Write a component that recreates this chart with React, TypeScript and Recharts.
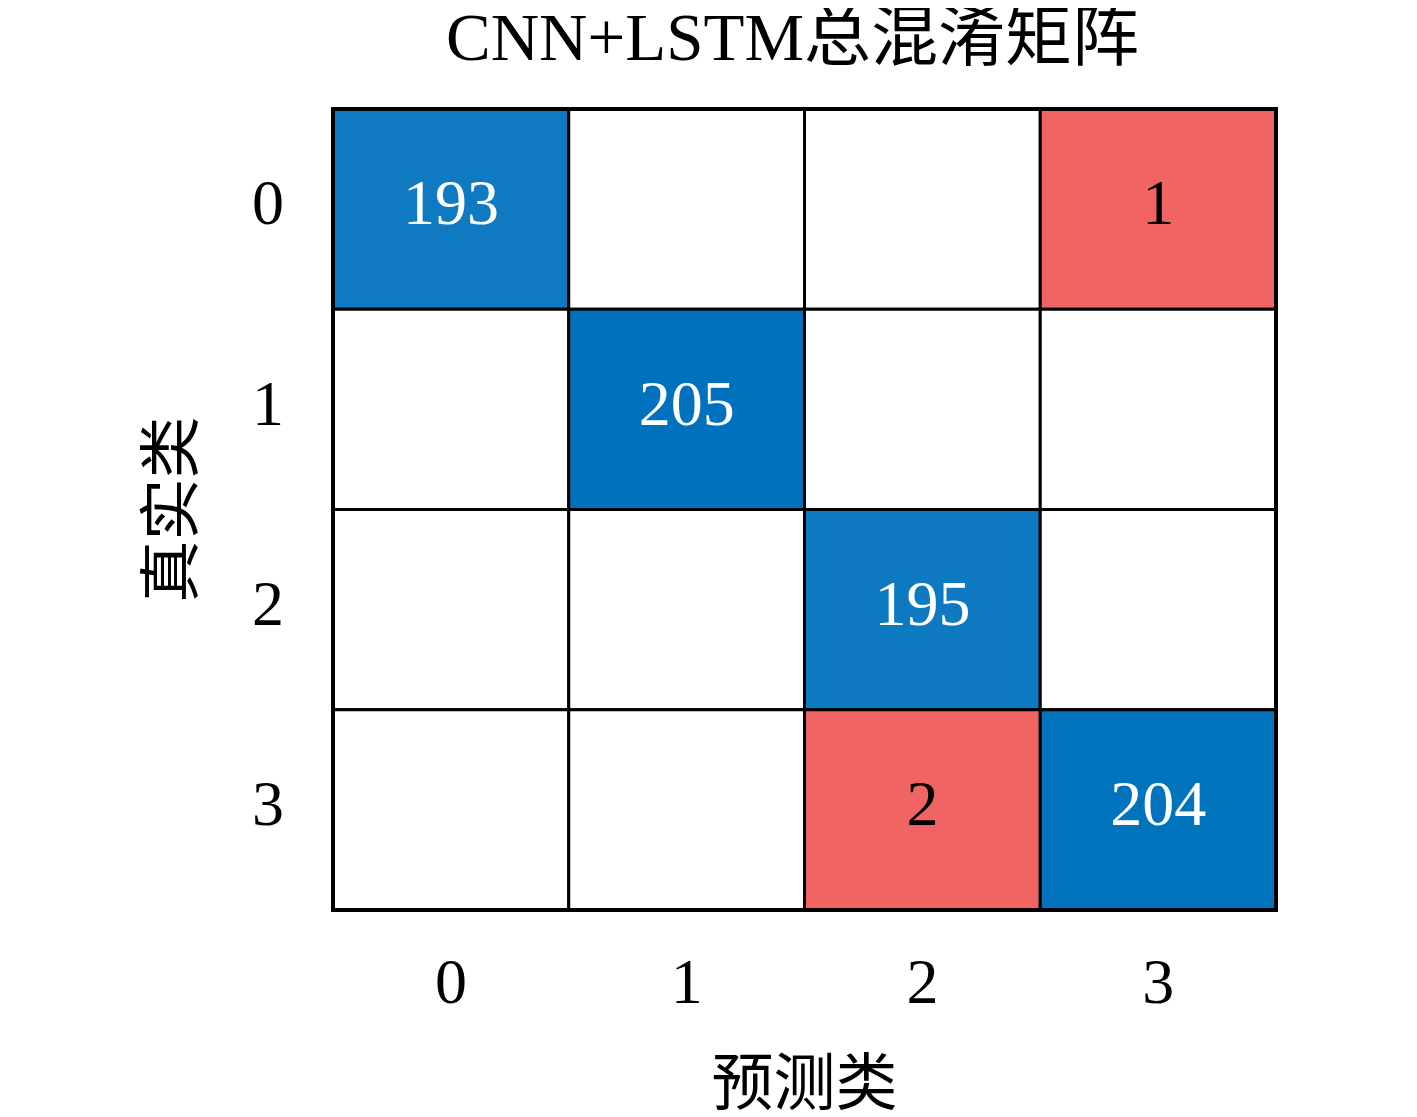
import React from "react";
import {
  ReferenceArea,
  Scatter,
  ScatterChart,
  XAxis,
  YAxis,
} from "recharts";

// 类别 (0..3), 行 = 真实类, 列 = 预测类
const classes = [0, 1, 2, 3];
const tickLabels = ["0", "1", "2", "3"];

const row0 = [193, 0, 0, 1];
const row1 = [0, 205, 0, 0];
const row2 = [0, 0, 195, 0];
const row3 = [0, 0, 2, 204];
const matrix = [row0, row1, row2, row3];

const title = "CNN+LSTM总混淆矩阵";
const xLabel = "预测类";
const yLabel = "真实类";

const DIAG = [0, 114, 189]; // #0072BD
const OFF = "#F06464";
const LATIN = "'Liberation Serif', 'DejaVu Serif', serif";
const CJK = "'Liberation Serif', 'Noto Sans CJK SC', serif";

const maxDiag = Math.max(...classes.map((i) => matrix[i][i]));

// 对角线按数量从白色插值到蓝色
function cellColor(r: number, c: number, v: number) {
  if (v === 0) return "#ffffff";
  if (r !== c) return OFF;
  const t = v / maxDiag;
  const mix = DIAG.map((ch) => Math.round(ch * t + 255 * (1 - t)));
  return `rgb(${mix[0]}, ${mix[1]}, ${mix[2]})`;
}

const cells = matrix.flatMap((row, r) =>
  row.map((v, c) => ({ x: c, y: r, v, diag: r === c }))
);
const points = cells.filter((d) => d.v > 0);

function ValueText(props: any) {
  const { cx, cy, payload } = props;
  return (
    <text
      x={cx}
      y={cy}
      dy="0.24em"
      textAnchor="middle"
      fontFamily={LATIN}
      fontSize={64}
      fill={payload.diag ? "#ffffff" : "#000000"}
    >
      {payload.v}
    </text>
  );
}

function YTick(props: any) {
  const { x, y, payload } = props;
  return (
    <text
      x={x}
      y={y}
      dy="0.24em"
      textAnchor="end"
      fontFamily={LATIN}
      fontSize={64}
      fill="#000"
    >
      {tickLabels[payload.value]}
    </text>
  );
}

const tickStyle = { fill: "#000", fontSize: 64, fontFamily: LATIN };

export default function App() {
  return (
    <div style={{ position: "relative", width: 1400, height: 1109 }}>
      <div
        style={{
          position: "absolute",
          left: 313,
          width: 943,
          top: -4,
          textAlign: "center",
          fontFamily: CJK,
          fontSize: 67,
          lineHeight: "67px",
          whiteSpace: "nowrap",
          color: "#000",
        }}
      >
        {title}
      </div>
      <ScatterChart
        width={1400}
        height={1109}
        margin={{ top: 101, right: 132, bottom: 0, left: 0 }}
      >
        <XAxis
          type="number"
          dataKey="x"
          domain={[-0.5, 3.5]}
          ticks={classes}
          tickFormatter={(v) => tickLabels[v]}
          allowDataOverflow
          axisLine={false}
          tickLine={false}
          tickMargin={42}
          tick={tickStyle}
          height={207}
          label={{
            value: xLabel,
            position: "insideBottom",
            offset: 12,
            fontSize: 62,
            fontFamily: CJK,
            fill: "#000",
          }}
        />
        <YAxis
          type="number"
          dataKey="y"
          domain={[-0.5, 3.5]}
          ticks={classes}
          reversed
          allowDataOverflow
          axisLine={false}
          tickLine={false}
          tickMargin={43}
          tick={YTick}
          width={325}
          label={{
            value: yLabel,
            angle: -90,
            position: "center",
            fontSize: 62,
            fontFamily: CJK,
            fill: "#000",
          }}
        />
        {cells.map((d) => (
          <ReferenceArea
            key={`${d.y}-${d.x}`}
            x1={d.x - 0.5}
            x2={d.x + 0.5}
            y1={d.y - 0.5}
            y2={d.y + 0.5}
            fill={cellColor(d.y, d.x, d.v)}
            fillOpacity={1}
            stroke="#000"
            strokeWidth={3}
          />
        ))}
        <ReferenceArea
          x1={-0.5}
          x2={3.5}
          y1={-0.5}
          y2={3.5}
          fill="none"
          fillOpacity={0}
          stroke="#000"
          strokeWidth={4}
        />
        <Scatter
          data={points}
          shape={ValueText}
          isAnimationActive={false}
        />
      </ScatterChart>
    </div>
  );
}
